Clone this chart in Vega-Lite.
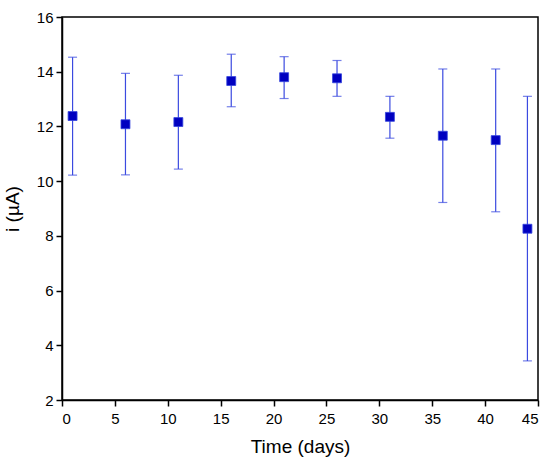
{
  "$schema": "https://vega.github.io/schema/vega-lite/v6.json",
  "width": 476,
  "height": 383,
  "autosize": {"type": "none"},
  "padding": {"left": 62, "top": 17, "right": 12, "bottom": 68},
  "background": "white",
  "config": {
    "view": {"stroke": "black", "strokeWidth": 1.5},
    "font": "Liberation Sans",
    "axis": {
      "domainColor": "black",
      "domainWidth": 1.5,
      "tickColor": "black",
      "tickWidth": 1.5,
      "grid": false,
      "labelFont": "Liberation Sans",
      "labelFontSize": 15,
      "labelColor": "black",
      "titleFont": "Liberation Sans",
      "titleFontSize": 19,
      "titleFontWeight": "normal",
      "titleColor": "black"
    }
  },
  "data": {
    "values": [
      {"t": 1, "i": 12.38, "lo": 10.22, "hi": 14.53},
      {"t": 6, "i": 12.08, "lo": 10.23, "hi": 13.94},
      {"t": 11, "i": 12.16, "lo": 10.44, "hi": 13.87},
      {"t": 16, "i": 13.66, "lo": 12.72, "hi": 14.64},
      {"t": 21, "i": 13.80, "lo": 13.02, "hi": 14.55},
      {"t": 26, "i": 13.76, "lo": 13.10, "hi": 14.41},
      {"t": 31, "i": 12.35, "lo": 11.57, "hi": 13.10},
      {"t": 36, "i": 11.66, "lo": 9.22, "hi": 14.10},
      {"t": 41, "i": 11.50, "lo": 8.88, "hi": 14.10},
      {"t": 44, "i": 8.26, "lo": 3.43, "hi": 13.10}
    ]
  },
  "layer": [
    {
      "mark": {"type": "rule", "color": "#3b4ae0", "strokeWidth": 1.2},
      "encoding": {
        "x": {
          "field": "t", "type": "quantitative",
          "scale": {"domain": [0, 45], "nice": false, "zero": false},
          "axis": {
            "title": "Time (days)",
            "values": [0, 2.5, 5, 7.5, 10, 12.5, 15, 17.5, 20, 22.5, 25, 27.5, 30, 32.5, 35, 37.5, 40, 42.5, 45],
            "labelExpr": "datum.value % 5 === 0 ? datum.label : ''",
            "tickSize": {"expr": "datum.value % 5 === 0 ? 6 : 3"},
            "labelPadding": 5,
            "titlePadding": 11
          }
        },
        "y": {
          "field": "lo", "type": "quantitative",
          "scale": {"domain": [2, 16], "nice": false, "zero": false},
          "axis": {
            "title": "i (µA)",
            "values": [2, 3, 4, 5, 6, 7, 8, 9, 10, 11, 12, 13, 14, 15, 16],
            "labelExpr": "datum.value % 2 === 0 ? datum.label : ''",
            "tickSize": {"expr": "datum.value % 2 === 0 ? 6 : 3"},
            "labelPadding": 3,
            "titlePadding": 14
          }
        },
        "y2": {"field": "hi"}
      }
    },
    {
      "mark": {"type": "tick", "orient": "horizontal", "color": "#3b4ae0", "size": 9, "thickness": 1.2},
      "encoding": {
        "x": {"field": "t", "type": "quantitative"},
        "y": {"field": "lo", "type": "quantitative"}
      }
    },
    {
      "mark": {"type": "tick", "orient": "horizontal", "color": "#3b4ae0", "size": 9, "thickness": 1.2},
      "encoding": {
        "x": {"field": "t", "type": "quantitative"},
        "y": {"field": "hi", "type": "quantitative"}
      }
    },
    {
      "mark": {"type": "square", "color": "#0000c0", "size": 80, "opacity": 1, "filled": true, "stroke": "#3344dd", "strokeWidth": 0.8},
      "encoding": {
        "x": {"field": "t", "type": "quantitative"},
        "y": {"field": "i", "type": "quantitative"}
      }
    }
  ]
}
